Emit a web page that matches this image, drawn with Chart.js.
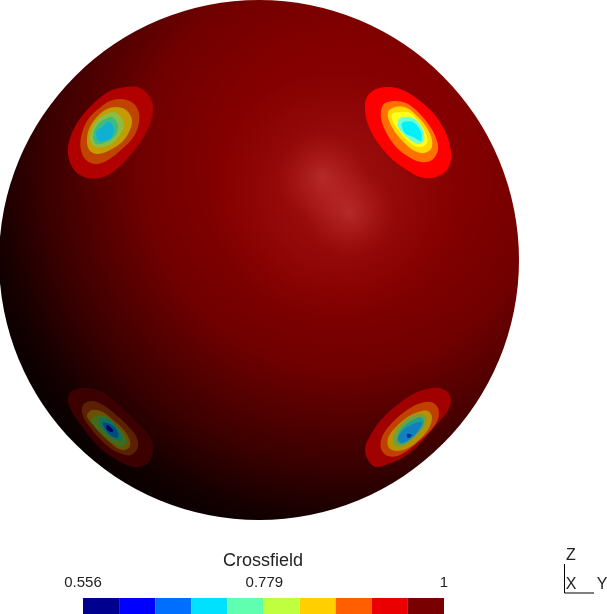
<!DOCTYPE html>
<html>
<head>
<meta charset="utf-8">
<title>Crossfield</title>
<script src="https://cdn.jsdelivr.net/npm/chart.js@4/dist/chart.umd.js"></script>
<style>
    html, body { margin: 0; padding: 0; background: #ffffff; }
    canvas { display: block; }
</style>
</head>
<body>
<canvas id="sphereChart" width="607" height="614"></canvas>
<script>
// Colour bar
const barTitle = "Crossfield";
const barTicks = [0.556, 0.779, 1];
const barEdges = [0.556, 0.6004, 0.6448, 0.6892, 0.7336, 0.778, 0.8224, 0.8668, 0.9112, 0.9556, 1];
const barColors = ["#00008f", "#0000ff", "#006fff", "#00e0ff", "#60ffb0", "#c0ff40", "#ffcf00", "#ff5f00", "#ea0000", "#780000"];

// Sphere, read in picture units
const sphereCenter = [[259, 260]];
const glowPoints = [[335, 195], [322, 177], [350, 213]];

// Contour rings of the four spots, outermost first
const spotTopLeft = [
    [[128,158],[113,172],[100,178],[87,178],[75,171],[68,155],[70,138],[79,120],[92,105],[108,92],[125,87],[140,88],[150,97],[153,110],[150,124],[142,140]],
    [[122,149],[108,160],[96,164],[86,160],[81,150],[81,137],[87,121],[97,110],[110,101],[122,99],[133,103],[139,113],[138,127],[132,139]],
    [[122,142],[110,150],[98,154],[90,151],[87,142],[89,129],[96,118],[105,110],[116,107],[126,110],[132,120],[129,132]],
    [[113,143],[103,147],[94,146],[90,139],[92,128],[98,119],[106,114],[114,112],[121,117],[124,126],[120,135]],
    [[113,138],[104,143],[96,144],[93,137],[96,127],[103,120],[112,117],[117,123],[118,130]],
    [[110,139],[99,141],[96,133],[102,127],[109,122],[114,130]]
];
const spotTopLeftColors = ["#b00000", "#c04400", "#c49c00", "#8cbc40", "#3cbc84", "#10b0d4"];

const spotTopRight = [
    [[378,143],[369,127],[365,110],[367,97],[376,89],[390,87],[405,91],[420,101],[433,113],[444,129],[450,146],[451,160],[445,172],[432,178],[420,177],[410,172],[393,160]],
    [[397,148],[387,134],[381,118],[383,105],[393,101],[406,103],[418,112],[429,125],[436,138],[438,150],[432,160],[421,162],[409,157]],
    [[410,148],[398,136],[390,123],[388,112],[395,107],[407,108],[418,117],[427,128],[432,140],[431,149],[424,153],[417,152]],
    [[400,132],[393,122],[392,114],[400,112],[410,113],[419,122],[426,134],[427,143],[421,147],[413,145],[406,139]],
    [[408,138],[398,127],[400,118],[413,118],[422,128],[424,140],[418,144]],
    [[405,133],[402,123],[413,122],[421,132],[421,141],[415,138]]
];
const spotTopRightColors = ["#ff0000", "#ff7000", "#ffd800", "#ffff20", "#70ffd0", "#00f0ff"];

const spotBottomLeft = [
    [[117,460],[100,448],[83,428],[70,408],[68,398],[72,391],[84,388],[97,390],[107,395],[120,406],[132,417],[150,437],[153,450],[149,462],[138,467],[127,465]],
    [[113,450],[102,441],[92,430],[83,416],[83,405],[92,401],[103,405],[115,414],[127,425],[136,436],[138,447],[131,455],[122,454]],
    [[113,445],[103,436],[94,426],[87,416],[92,410],[103,412],[113,420],[122,428],[129,438],[130,446],[125,450],[119,449]],
    [[103,435],[95,427],[91,420],[97,416],[107,417],[115,425],[122,432],[127,442],[122,447],[113,443]],
    [[102,428],[100,418],[110,420],[120,432],[122,440],[113,438]],
    [[108,433],[103,423],[112,425],[118,433],[117,438]],
    [[107,430],[107,425],[113,430],[112,432]]
];
const spotBottomLeftColors = ["#3c0000", "#5a2000", "#6a5000", "#3f6a20", "#107060", "#004a80", "#000060"];

const spotBottomRight = [
    [[400,459],[388,464],[376,467],[368,460],[365,448],[370,436],[380,421],[397,405],[415,393],[432,388],[445,390],[451,400],[447,412],[438,423],[425,438],[412,451]],
    [[400,455],[388,456],[381,449],[382,437],[390,425],[403,413],[418,404],[431,402],[438,408],[438,419],[431,430],[418,442]],
    [[410,447],[398,451],[389,448],[388,438],[395,428],[406,418],[418,412],[428,411],[432,417],[429,428],[421,438]],
    [[403,446],[395,445],[393,437],[398,428],[408,418],[419,414],[426,417],[425,425],[416,436]],
    [[402,444],[397,440],[403,427],[420,417],[424,422],[415,435]],
    [[402,443],[398,438],[407,427],[422,422],[415,435]],
    [[407,434],[412,435],[408,438]]
];
const spotBottomRightColors = ["#a00000", "#c04000", "#b89000", "#70a040", "#20a090", "#1080c0", "#0030a0"];

// Axis triad
const triadLine = [[564.5, 564], [564.5, 593], [594, 593]];
const triadLabels = ["Z", "X", "Y"];
const triadLabelPoints = [[571, 555.5], [571, 584.5], [602, 584.5]];

function toPoints(list) {
    return list.map(p => ({ x: p[0], y: p[1] }));
}

// Gradient centred on a point given in picture units
function radialFill(context, point, radius, stops) {
    const chart = context.chart;
    if (!chart.chartArea) return stops[0][1];
    const px = chart.scales.x.getPixelForValue(point[0]);
    const py = chart.scales.y.getPixelForValue(point[1]);
    const gradient = chart.ctx.createRadialGradient(px, py, 0, px, py, radius);
    stops.forEach(s => gradient.addColorStop(s[0], s[1]));
    return gradient;
}

const datasets = [];

// Sphere body
datasets.push({
    data: toPoints(sphereCenter),
    pointRadius: 260,
    pointBorderWidth: 0,
    pointBackgroundColor: (context) => radialFill(context, [345, 165], 400, [
        [0, "#8a0606"], [0.3, "#840000"], [0.5, "#720000"], [0.75, "#3a0000"], [0.9, "#120000"], [1, "#040000"]
    ])
});

// Soft highlight, one wide glow and two smaller ones on top
glowPoints.forEach((point, index) => {
    const wide = index === 0;
    const radius = wide ? 125 : 45;
    datasets.push({
        data: toPoints([point]),
        pointRadius: radius,
        pointBorderWidth: 0,
        pointBackgroundColor: (context) => radialFill(context, point, radius, wide ? [
            [0, "rgba(175,25,25,0.7)"], [0.6, "rgba(165,15,15,0.35)"], [1, "rgba(160,10,10,0)"]
        ] : [
            [0, "rgba(215,80,80,0.42)"], [0.5, "rgba(205,60,60,0.22)"], [1, "rgba(200,50,50,0)"]
        ])
    });
});

// Spots
function addSpot(rings, colors) {
    rings.forEach((ring, index) => {
        // overlap the ends so the outline stays smooth where the ring closes
        const closed = [ring[ring.length - 1]].concat(ring, [ring[0], ring[1]]);
        datasets.push({
            data: toPoints(closed),
            showLine: true,
            fill: "shape",
            tension: 0.35,
            borderWidth: 0,
            pointRadius: 0,
            backgroundColor: colors[index],
            borderColor: colors[index]
        });
    });
}
addSpot(spotTopLeft, spotTopLeftColors);
addSpot(spotTopRight, spotTopRightColors);
addSpot(spotBottomLeft, spotBottomLeftColors);
addSpot(spotBottomRight, spotBottomRightColors);

// Colour bar cells on their own value axis
barColors.forEach((color, index) => {
    datasets.push({
        xAxisID: "xBar",
        data: [{ x: barEdges[index], y: 606 }, { x: barEdges[index + 1], y: 606 }],
        showLine: true,
        borderWidth: 16,
        borderCapStyle: "butt",
        borderColor: color,
        pointRadius: 0
    });
});

// Triad lines
datasets.push({
    data: toPoints(triadLine),
    showLine: true,
    borderWidth: 1,
    borderColor: "#000000",
    pointRadius: 0
});

// Later datasets are painted on top
datasets.forEach((dataset, index) => {
    dataset.order = datasets.length - index;
    dataset.clip = false;
});

// Texts of the colour bar and the triad
const labelsPlugin = {
    id: "labelsPlugin",
    afterDatasetsDraw(chart) {
        const ctx = chart.ctx;
        const xBar = chart.scales.xBar;
        const x = chart.scales.x;
        const y = chart.scales.y;
        ctx.save();
        ctx.fillStyle = "#222222";
        ctx.textBaseline = "middle";
        ctx.textAlign = "center";

        ctx.font = "18px 'Liberation Sans'";
        ctx.fillText(barTitle, x.getPixelForValue(263), y.getPixelForValue(561));

        ctx.font = "15px 'Liberation Sans'";
        barTicks.forEach((tick) => {
            ctx.fillText(String(tick), xBar.getPixelForValue(tick), y.getPixelForValue(583));
        });

        ctx.font = "16px 'Liberation Sans'";
        triadLabels.forEach((label, index) => {
            const point = triadLabelPoints[index];
            ctx.fillText(label, x.getPixelForValue(point[0]), y.getPixelForValue(point[1]));
        });
        ctx.restore();
    }
};

new Chart(document.getElementById("sphereChart").getContext("2d"), {
    type: "scatter",
    data: { datasets: datasets },
    plugins: [labelsPlugin],
    options: {
        responsive: false,
        animation: false,
        events: [],
        layout: { padding: 0, autoPadding: false },
        scales: {
            x: { type: "linear", display: false, min: 0, max: 607 },
            xBar: { type: "linear", display: false, min: 0.4539, max: 1.2005 },
            y: { type: "linear", display: false, min: 0, max: 614, reverse: true }
        },
        plugins: {
            legend: { display: false },
            tooltip: { enabled: false }
        }
    }
});
</script>
</body>
</html>
